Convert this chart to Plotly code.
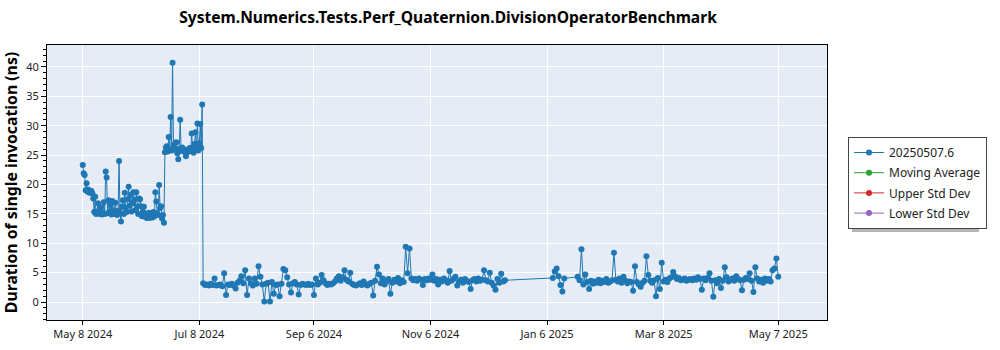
import pandas as pd
import plotly.graph_objects as go

# ---- data ----
series_name = "20250507.6"
run_starts = ["2024-05-08", "2024-07-10", "2025-01-09", "2025-01-22"]
run_freqs = ["12h", "D", "D", "D"]

# May 8 - Jul 9 2024, two runs per day
run1_values = [
    23.3, 21.9, 21.6, 19.0, 20.2, 18.8, 19.1, 18.6, 18.7, 18.9,
    18.5, 17.6, 15.3, 17.9, 15.0, 15.4, 16.8, 15.1, 15.0, 16.1,
    14.9, 15.2, 17.0, 15.0, 22.2, 21.2, 15.1, 17.3, 15.4, 16.5,
    14.9, 17.2, 15.6, 15.0, 16.9, 15.2, 14.8, 15.5, 24.0, 15.1,
    13.7, 16.2, 17.3, 15.0, 18.6, 16.0, 15.3, 17.5, 19.6, 16.4,
    18.2, 15.4, 16.8, 18.7, 17.4, 15.6, 18.7, 16.2, 15.0, 17.6,
    17.5, 16.3, 14.6, 15.4, 16.2, 14.5, 15.0, 14.3, 14.6, 15.2,
    14.3, 14.8, 14.9, 14.4, 15.3, 14.6, 18.7, 17.1, 15.1, 14.8,
    19.9, 16.0, 16.3, 14.2, 14.8, 13.5,
    25.5, 26.3, 26.5, 25.6, 28.1, 26.0, 31.5, 25.8, 40.7, 26.6,
    26.8, 25.9, 27.2, 25.3, 24.3, 26.1, 31.0, 25.7, 26.3, 25.9,
    26.0, 25.5, 24.8, 25.4, 25.6, 26.0, 26.2, 25.7, 28.7, 26.3,
    25.4, 26.9, 28.9, 26.1, 30.4, 25.8, 27.0, 30.3, 26.2, 33.6,
]

# Jul 10 - Dec 15 2024, daily
run2_values = [
    3.2, 2.9, 3.0, 2.8, 3.1, 2.9, 4.0, 2.8, 2.9, 3.0,
    2.7, 4.9, 1.2, 3.0, 2.9, 3.1, 2.8, 2.3, 3.3, 3.6,
    4.4, 3.2, 5.4, 1.2, 4.0, 3.2, 2.8, 4.0, 3.1, 6.1,
    4.3, 3.0, 0.1, 3.1, 3.3, 0.1, 3.4, 1.4, 2.9, 3.0,
    1.0, 3.1, 5.6, 5.4, 4.2, 3.0, 1.6, 3.2, 3.4, 3.0,
    1.3, 2.9, 3.1, 3.0, 2.9, 3.1, 2.9, 3.0, 1.2, 4.0,
    3.0, 3.3, 4.6, 3.7, 3.2, 2.9, 3.1, 3.0, 3.2, 3.5,
    4.0, 4.4, 3.6, 4.2, 5.4, 3.8, 3.5, 5.0, 3.1, 2.9,
    2.8, 3.0, 3.2, 2.9, 3.5, 3.0, 2.8, 3.1, 3.3, 1.1,
    3.6, 6.0, 4.7, 3.2, 4.0, 3.0, 3.5, 3.9, 1.4, 3.3,
    3.8, 3.5, 4.1, 3.2, 3.7, 3.4, 9.4, 4.9, 9.1, 4.0,
    3.7, 3.9, 3.6, 4.0, 3.8, 2.9, 3.9, 3.7, 4.0, 3.8,
    4.7, 3.6, 3.9, 3.0, 3.8, 3.5, 4.0, 3.7, 3.3, 5.3,
    3.6, 3.9, 4.3, 2.8, 3.5, 3.8, 3.3, 3.9, 3.6, 3.4,
    2.2, 3.7, 3.9, 3.5, 4.0, 3.6, 3.8, 5.4, 3.7, 3.5,
    5.0, 3.3, 2.8, 2.1, 3.9, 3.3, 4.8, 3.5, 3.7,
]

# Jan 9 - Jan 15 2025
run3_values = [4.1, 5.2, 5.7, 4.4, 2.9, 1.8, 4.0]

# Jan 22 - May 7 2025
run4_values = [
    4.3, 3.7, 9.0, 3.0, 4.7, 3.4, 2.2, 3.6, 3.1, 3.5,
    3.3, 3.8, 3.2, 3.6, 3.4, 3.9, 3.3, 3.5, 3.7, 8.4,
    3.8, 3.5, 4.0, 3.3, 4.3, 3.6, 3.2, 3.5, 3.4, 1.9,
    6.1, 3.4, 3.0, 2.6, 3.3, 3.6, 7.8, 4.6, 3.6, 3.3,
    3.7, 1.0, 4.1, 2.2, 6.7, 3.5, 3.8, 3.4, 4.0, 4.2,
    5.1, 4.4, 3.9, 4.1, 3.7, 3.8, 4.0, 3.6, 3.8, 3.9,
    3.7, 4.0, 3.8, 4.2, 3.9, 2.1, 4.0, 3.7, 4.1, 4.9,
    3.6, 0.9, 3.7, 3.2, 3.9, 2.4, 3.6, 5.9, 4.2, 3.5,
    3.8, 4.0, 3.6, 4.4, 3.9, 3.7, 2.0, 3.8, 4.1, 3.9,
    4.9, 3.6, 1.7, 5.9, 4.0, 3.5, 3.8, 3.3, 4.0, 3.6,
    3.9, 3.5, 5.4, 5.7, 7.4, 4.3,
]

x_tick_dates = ["2024-05-08", "2024-07-08", "2024-09-06", "2024-11-06",
                "2025-01-06", "2025-03-08", "2025-05-07"]
x_tick_labels = ["May 8 2024", "Jul 8 2024", "Sep 6 2024", "Nov 6 2024",
                 "Jan 6 2025", "Mar 8 2025", "May 7 2025"]
y_tick_values = [0, 5, 10, 15, 20, 25, 30, 35, 40]

extra_series = ["Moving Average", "Upper Std Dev", "Lower Std Dev"]
extra_colors = ["#2ca02c", "#d62728", "#9467bd"]

# ---- build x from runs of evenly spaced results ----
dates = []
values = []
for start, freq, vals in zip(run_starts, run_freqs,
                             [run1_values, run2_values, run3_values, run4_values]):
    dates.extend(pd.date_range(start, periods=len(vals), freq=freq))
    values.extend(vals)

FONT = "Noto Sans"
fig = go.Figure()
fig.add_trace(go.Scatter(
    x=dates, y=values, mode="lines+markers", name=series_name, legendgroup="a",
    line=dict(color="#1f77b4", width=1),
    marker=dict(color="#1f77b4", size=6),
))
for i, (name, col) in enumerate(zip(extra_series, extra_colors)):
    fig.add_trace(go.Scatter(
        x=[None], y=[None], mode="lines+markers", name=name, legendgroup=f"g{i}",
        line=dict(color=col, width=1), marker=dict(color=col, size=6),
    ))

# plot area in pixels: x 47..827, y 45..320
L, R, T, B = 47, 827, 45, 320
W, H = 1000, 350
def px(xp):
    return (xp - L) / (R - L)
def py(yp):
    return (B - yp) / (B - T)

# drop shadow behind the legend box
fig.add_shape(type="rect", xref="paper", yref="paper",
              x0=px(852), x1=px(979), y0=py(232), y1=py(141),
              fillcolor="rgba(120,120,120,0.55)", line=dict(width=0), layer="below")

fig.update_layout(
    width=W, height=H,
    margin=dict(l=L, r=W - R, t=T, b=H - B),
    paper_bgcolor="white",
    plot_bgcolor="#e5ecf6",
    font=dict(family=FONT, size=12, color="#222"),
    title=dict(text="<b>System.Numerics.Tests.Perf_Quaternion.DivisionOperatorBenchmark</b>",
               x=px(448), xref="paper", xanchor="center", y=1 - 18 / H, yanchor="middle",
               font=dict(family=FONT, size=15.6, color="black")),
    showlegend=True,
    legend=dict(x=px(848), y=py(137), xanchor="left", yanchor="top",
                bgcolor="white", bordercolor="#444", borderwidth=1,
                traceorder="grouped", tracegroupgap=1.2,
                font=dict(family=FONT, size=12, color="#222")),
    xaxis=dict(
        range=["2024-04-19 07:00", "2025-06-01 12:00"],
        tickvals=x_tick_dates, ticktext=x_tick_labels,
        showgrid=True, gridcolor="white", gridwidth=1,
        showline=True, linecolor="black", linewidth=1, mirror=True,
        ticks="outside", ticklen=4, tickcolor="black",
        tickfont=dict(size=11, color="#222"),
        zeroline=False, automargin=False,
    ),
    yaxis=dict(
        range=[-3.06, 43.74],
        tickvals=y_tick_values,
        showgrid=True, gridcolor="white", gridwidth=1,
        showline=True, linecolor="black", linewidth=1, mirror=True,
        ticks="outside", ticklen=5, tickcolor="black",
        minor=dict(dtick=1, ticks="outside", ticklen=3, tickcolor="black", showgrid=False),
        tickfont=dict(size=11, color="#222"),
        zeroline=False, automargin=False,
        title=dict(text="<b>Duration of single invocation (ns)</b>",
                   font=dict(family=FONT, size=15.8, color="black"), standoff=10),
    ),
)

fig.write_html("out.html")
